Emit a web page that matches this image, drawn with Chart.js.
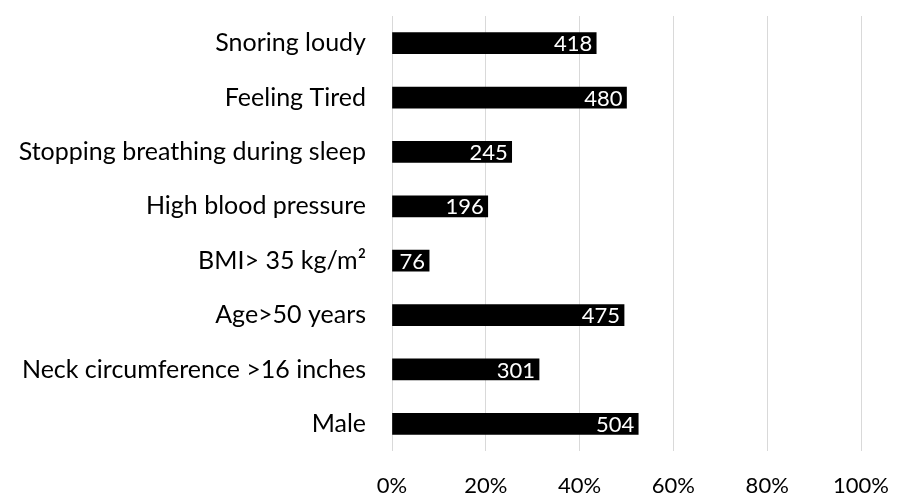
<!DOCTYPE html>
<html>
<head>
<meta charset="utf-8">
<script src="https://cdn.jsdelivr.net/npm/chart.js@4"></script>
<style>
  html, body { margin: 0; padding: 0; background: #ffffff; }
  #wrap { width: 899px; height: 497px; }
</style>
</head>
<body>
<div id="wrap"><canvas id="chart" width="899" height="497"></canvas></div>
<script>
// Symptom / risk-factor counts among patients
const categories = [
  'Snoring loudy',
  'Feeling Tired',
  'Stopping breathing during sleep',
  'High blood pressure',
  'BMI> 35 kg/m\u00B2',
  'Age>50 years',
  'Neck circumference >16 inches',
  'Male'
];
const counts = [418, 480, 245, 196, 76, 475, 301, 504];
const totalPatients = 960;
const percentTicks = ['0%', '20%', '40%', '60%', '80%', '100%'];

// Bar length is each count as a share of all patients
const shares = counts.map(c => c / totalPatients * 100);

const FONT = 'Lato, "Open Sans", sans-serif';

// White count labels drawn inside the end of each bar
const countLabels = {
  id: 'countLabels',
  afterDatasetsDraw(chart) {
    const ctx = chart.ctx;
    const meta = chart.getDatasetMeta(0);
    ctx.save();
    ctx.fillStyle = '#ffffff';
    ctx.font = '22px ' + FONT;
    ctx.textAlign = 'right';
    ctx.textBaseline = 'middle';
    meta.data.forEach((bar, i) => {
      ctx.fillText(String(counts[i]), bar.x - 4, bar.y + 1);
    });
    ctx.restore();
  }
};

new Chart(document.getElementById('chart'), {
  type: 'bar',
  data: {
    labels: categories,
    datasets: [{
      data: shares,
      backgroundColor: '#000000',
      borderWidth: 0,
      barThickness: 21
    }]
  },
  options: {
    indexAxis: 'y',
    responsive: false,
    animation: false,
    layout: { padding: { top: 16, right: 38, left: 0, bottom: 0 } },
    plugins: {
      legend: { display: false },
      tooltip: { enabled: false }
    },
    scales: {
      x: {
        min: 0,
        max: 100,
        afterFit(scale) {
          scale.height = 46;
          scale.paddingLeft = 0;
          scale.paddingRight = 0;
        },
        afterBuildTicks(scale) {
          scale.ticks = percentTicks.map((t, i) => ({ value: i * 20 }));
        },
        ticks: {
          callback: (v, i) => percentTicks[i],
          color: '#000000',
          font: { family: FONT, size: 22 },
          padding: 22,
          maxRotation: 0
        },
        grid: { color: '#d9d9d9', lineWidth: 1, drawTicks: false },
        border: { display: false }
      },
      y: {
        afterFit(scale) {
          scale.width = 392;
          scale.paddingTop = 0;
          scale.paddingBottom = 0;
        },
        ticks: {
          color: '#000000',
          font: { family: FONT, size: 25 },
          padding: 26
        },
        grid: { display: false, drawTicks: false },
        border: { display: false }
      }
    }
  },
  plugins: [countLabels]
});
</script>
</body>
</html>
